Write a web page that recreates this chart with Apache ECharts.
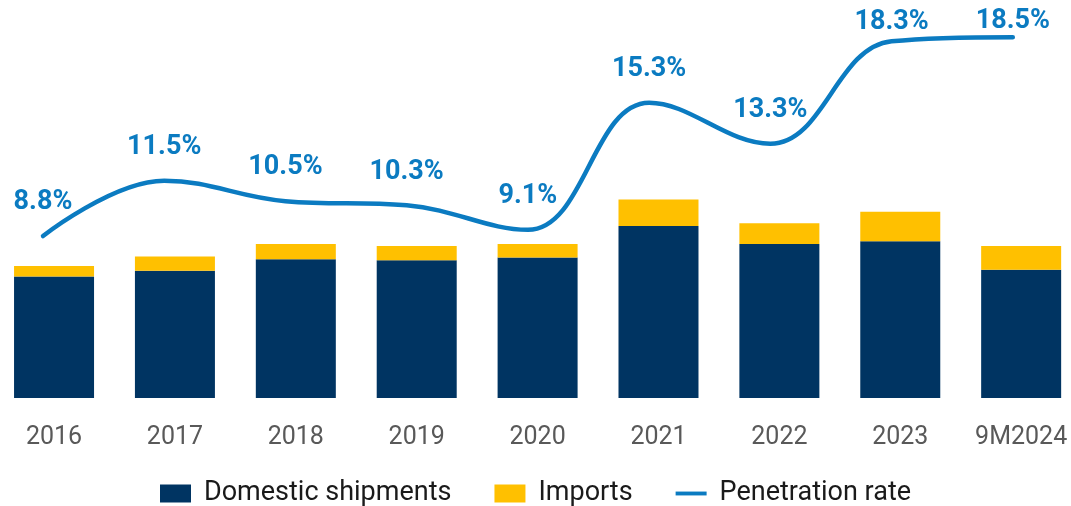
<!DOCTYPE html>
<html>
<head>
<meta charset="utf-8">
<script src="https://cdn.jsdelivr.net/npm/echarts@6/dist/echarts.min.js"></script>
<style>
  html, body { margin: 0; padding: 0; background: #ffffff; overflow: hidden; width: 1071px; height: 506px; }
  /* the drawing surface runs slightly past both page edges, like the bleed of the outer bars */
  #chart { position: absolute; left: -20px; top: 0; width: 1111px; height: 506px; }
</style>
</head>
<body>
<div id="chart"></div>
<script>
// Categories and series values
const categories = ['2016', '2017', '2018', '2019', '2020', '2021', '2022', '2023', '9M2024'];
const domesticShipments = [12.8, 13.4, 14.6, 14.5, 14.8, 18.1, 16.2, 16.5, 13.5];
const imports = [1.1, 1.5, 1.6, 1.5, 1.4, 2.8, 2.2, 3.1, 2.5];
const penetrationRate = [8.8, 11.5, 10.5, 10.3, 9.1, 15.3, 13.3, 18.3, 18.5];
// Labels near the top edge are nudged down so they stay inside the canvas
const labelNudge = [0, 0, 0, 0, 0, 0, 0, 14, 18];

const NAVY = '#003462';
const GOLD = '#FFC000';
const BLUE = '#0B7BC1';
const FONT = 'Roboto, "Noto Sans", sans-serif';

const chart = echarts.init(document.getElementById('chart'), null, { renderer: 'canvas' });

chart.setOption({
  backgroundColor: '#ffffff',
  animation: false,
  textStyle: { fontFamily: FONT },
  legend: {
    data: [
      { name: 'Domestic shipments', icon: 'rect' },
      { name: 'Imports', icon: 'rect' },
      { name: 'Penetration rate', icon: 'path://M0,0L40,0L40,5L0,5Z' }
    ],
    left: 'center',
    top: 475,
    itemWidth: 31,
    itemHeight: 18,
    itemGap: 43,
    textStyle: { fontSize: 27, color: '#1a1a1a', fontFamily: FONT, padding: [0, 0, 0, 8] }
  },
  grid: [
    { left: 13.6, width: 1088, top: 18, bottom: 108, containLabel: false },
    { left: 2.4, width: 1091, top: 6.4, bottom: 89.6, containLabel: false }
  ],
  xAxis: [
    {
      type: 'category', gridIndex: 0, data: categories,
      axisLine: { show: false }, axisTick: { show: false },
      axisLabel: { interval: 0, color: '#595959', fontSize: 25, margin: 27, fontFamily: FONT }
    },
    {
      type: 'category', gridIndex: 1, data: categories, show: false
    }
  ],
  yAxis: [
    { type: 'value', gridIndex: 0, min: 0, max: 40, show: false, splitLine: { show: false } },
    { type: 'value', gridIndex: 1, min: 0, max: 20, show: false, splitLine: { show: false } }
  ],
  series: [
    {
      name: 'Domestic shipments', type: 'bar', stack: 'total',
      xAxisIndex: 0, yAxisIndex: 0, barWidth: 80,
      itemStyle: { color: NAVY },
      data: domesticShipments
    },
    {
      name: 'Imports', type: 'bar', stack: 'total',
      xAxisIndex: 0, yAxisIndex: 0, barWidth: 80,
      itemStyle: { color: GOLD },
      data: imports
    },
    {
      name: 'Penetration rate', type: 'line',
      xAxisIndex: 1, yAxisIndex: 1,
      smooth: 0.4, symbol: 'circle', symbolSize: 0, showSymbol: true,
      lineStyle: { color: BLUE, width: 4.5, cap: 'round' },
      itemStyle: { color: BLUE },
      label: {
        show: true, position: 'top', distance: 20,
        color: BLUE, fontSize: 27, fontWeight: 'bold', fontFamily: FONT,
        formatter: p => p.value.toFixed(1) + '%'
      },
      data: penetrationRate.map((v, i) => ({
        value: v,
        label: { offset: [0, labelNudge[i]] }
      }))
    }
  ]
});
</script>
</body>
</html>
